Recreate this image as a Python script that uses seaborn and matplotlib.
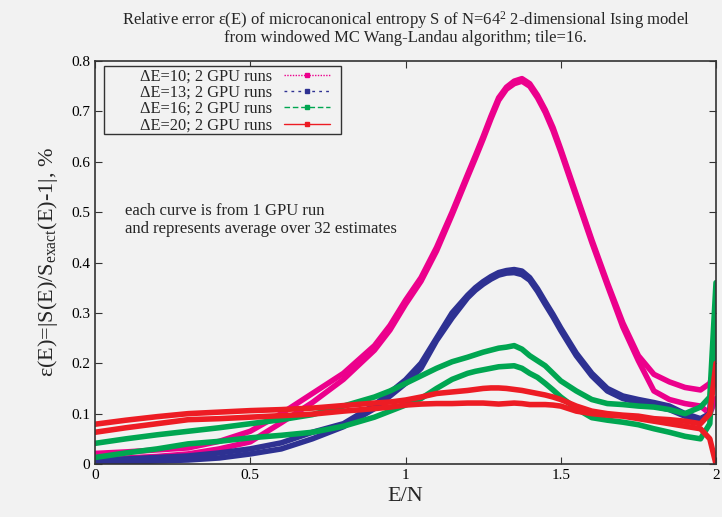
import pandas as pd
import matplotlib
matplotlib.use("Agg")
import matplotlib.pyplot as plt
from matplotlib.lines import Line2D
from matplotlib.patches import Rectangle
import seaborn as sns

# energy per spin grid (shared by all curves)
energy = [0, 0.1, 0.2, 0.3, 0.4, 0.5, 0.6, 0.7, 0.8, 0.9, 0.95, 1.0, 1.05, 1.1, 1.15,
          1.2, 1.225, 1.25, 1.275, 1.3, 1.325, 1.35, 1.375, 1.4, 1.425, 1.45, 1.475,
          1.5, 1.55, 1.6, 1.65, 1.7, 1.75, 1.8, 1.85, 1.9, 1.95, 1.98, 2.0]

# dE=10, two runs
de10_a = [0.021, 0.024, 0.028, 0.032, 0.045, 0.065, 0.1, 0.14, 0.18, 0.235, 0.275, 0.325,
          0.37, 0.43, 0.5, 0.575, 0.612, 0.65, 0.69, 0.727, 0.748, 0.76, 0.765, 0.755,
          0.732, 0.703, 0.668, 0.625, 0.535, 0.445, 0.36, 0.28, 0.215, 0.178, 0.163,
          0.152, 0.147, 0.16, 0.2]
de10_b = [0.01, 0.012, 0.015, 0.02, 0.03, 0.044, 0.082, 0.122, 0.168, 0.226, 0.266, 0.317,
          0.363, 0.423, 0.495, 0.57, 0.607, 0.645, 0.685, 0.722, 0.744, 0.755, 0.76, 0.75,
          0.727, 0.698, 0.662, 0.62, 0.53, 0.44, 0.355, 0.272, 0.205, 0.145, 0.128, 0.12,
          0.115, 0.1, 0.13]

# dE=13, two runs
de13_a = [0.007, 0.01, 0.013, 0.016, 0.022, 0.03, 0.042, 0.063, 0.08, 0.117, 0.142, 0.167,
          0.2, 0.25, 0.3, 0.335, 0.35, 0.362, 0.372, 0.38, 0.384, 0.386, 0.383, 0.37,
          0.348, 0.322, 0.297, 0.27, 0.22, 0.18, 0.15, 0.135, 0.128, 0.122, 0.115, 0.1,
          0.09, 0.1, 0.3]
de13_b = [0.003, 0.004, 0.006, 0.008, 0.012, 0.02, 0.03, 0.05, 0.074, 0.11, 0.135, 0.16,
          0.19, 0.245, 0.29, 0.33, 0.345, 0.357, 0.367, 0.375, 0.379, 0.38, 0.376, 0.365,
          0.343, 0.317, 0.292, 0.265, 0.215, 0.175, 0.145, 0.13, 0.122, 0.115, 0.108,
          0.095, 0.085, 0.1, 0.27]

# dE=16, two runs
de16_a = [0.041, 0.05, 0.058, 0.065, 0.072, 0.08, 0.088, 0.098, 0.115, 0.133, 0.145, 0.16,
          0.175, 0.19, 0.203, 0.212, 0.217, 0.222, 0.226, 0.23, 0.232, 0.235, 0.228, 0.215,
          0.205, 0.195, 0.18, 0.165, 0.145, 0.128, 0.12, 0.118, 0.115, 0.113, 0.108, 0.1,
          0.113, 0.133, 0.36]
de16_b = [0.013, 0.022, 0.03, 0.04, 0.045, 0.052, 0.057, 0.063, 0.075, 0.093, 0.105, 0.117,
          0.13, 0.15, 0.168, 0.18, 0.184, 0.187, 0.19, 0.193, 0.194, 0.195, 0.19, 0.18,
          0.172, 0.16, 0.147, 0.133, 0.11, 0.092, 0.087, 0.083, 0.078, 0.07, 0.063, 0.055,
          0.05, 0.08, 0.3]

# dE=20, two runs
de20_a = [0.079, 0.087, 0.094, 0.1, 0.103, 0.106, 0.108, 0.111, 0.116, 0.121, 0.123, 0.127,
          0.133, 0.14, 0.143, 0.146, 0.148, 0.15, 0.151, 0.151, 0.15, 0.148, 0.146, 0.143,
          0.14, 0.137, 0.133, 0.128, 0.115, 0.105, 0.1, 0.097, 0.095, 0.09, 0.088, 0.085,
          0.08, 0.1, 0.2]
de20_b = [0.063, 0.072, 0.08, 0.088, 0.09, 0.093, 0.096, 0.099, 0.105, 0.11, 0.113, 0.117,
          0.119, 0.12, 0.12, 0.121, 0.121, 0.121, 0.12, 0.119, 0.12, 0.121, 0.12, 0.118,
          0.118, 0.118, 0.117, 0.115, 0.105, 0.1, 0.097, 0.095, 0.09, 0.085, 0.08, 0.075,
          0.07, 0.05, 0.0]

labels = ["ΔE=10; 2 GPU runs", "ΔE=13; 2 GPU runs", "ΔE=16; 2 GPU runs", "ΔE=20; 2 GPU runs"]
colors = ["#ec008c", "#2e3192", "#00a651", "#ed1c24"]
styles = [(0, (1, 1)), (0, (2, 3)), (0, (4, 2)), "-"]
runs = [(de10_a, de10_b), (de13_a, de13_b), (de16_a, de16_b), (de20_a, de20_b)]

xtick_vals = [0, 0.5, 1, 1.5, 2]
xtick_labels = ["0", "0.5", "1", "1.5", "2"]
ytick_vals = [0, 0.1, 0.2, 0.3, 0.4, 0.5, 0.6, 0.7, 0.8]
ytick_labels = ["0", "0.1", "0.2", "0.3", "0.4", "0.5", "0.6", "0.7", "0.8"]

sns.set_style("ticks")
plt.rcParams["font.family"] = ["Liberation Serif", "DejaVu Serif"]
plt.rcParams["mathtext.fontset"] = "custom"
plt.rcParams["mathtext.rm"] = "Liberation Serif"
plt.rcParams["mathtext.it"] = "Liberation Serif"

bg = "#f2f2f2"
fig, ax = plt.subplots(figsize=(7.22, 5.17), dpi=100)
fig.patch.set_facecolor(bg)
ax.set_facecolor(bg)
fig.subplots_adjust(left=0.1316, right=0.9917, top=0.882, bottom=0.1025)

# thick bands, like the dense gnuplot points
for (ra, rb), c in zip(runs, colors):
    for r in (ra, rb):
        sns.lineplot(x=energy, y=r, color=c, lw=4.0, ax=ax, sort=False,
                     solid_joinstyle="round")

ax.set_xlim(0, 2)
ax.set_ylim(0, 0.8)
ax.set_xticks(xtick_vals)
ax.set_xticklabels(xtick_labels)
ax.set_yticks(ytick_vals)
ax.set_yticklabels(ytick_labels)
ax.tick_params(direction="in", top=True, right=True, length=5, width=0.8,
               labelsize=11, colors="#333333", labelcolor="black")
for s in ax.spines.values():
    s.set_color("#333333")
    s.set_linewidth(1.2)

ax.set_xlabel("E/N", fontsize=16, labelpad=4)
ax.set_ylabel(r"ε(E)=|S(E)/S$_{\mathrm{exact}}$(E)-1|, %", fontsize=16, labelpad=8)
ax.set_title("Relative error ε(E) of microcanonical entropy S of N=64$^2$ 2-dimensional Ising model\n"
             "from windowed MC Wang-Landau algorithm; tile=16.",
             fontsize=12, linespacing=0.9, pad=14)

ax.text(0.097, 0.484, "each curve is from 1 GPU run\nand represents average over 32 estimates",
        fontsize=12, va="center", ha="left", linespacing=1.15)

# legend box (drawn separately so the text sits right-aligned like gnuplot)
ax.add_patch(Rectangle((0.0145, 0.82), 0.3815, 0.168, transform=ax.transAxes,
                       facecolor=bg, edgecolor="#333333", lw=1.0, zorder=4))
handles = [Line2D([], [], color=c, ls=st, lw=1, marker="s", markersize=3.5)
           for c, st in zip(colors, styles)]
leg = ax.legend(handles, labels, loc="upper left", bbox_to_anchor=(0.066, 0.992),
                markerfirst=False, numpoints=1, handlelength=2.8, fontsize=11.8,
                frameon=False, borderpad=0.25, labelspacing=0.02, handletextpad=0.7,
                borderaxespad=0)
leg.set_zorder(5)

fig.savefig("out.png", dpi=100, facecolor=bg)
